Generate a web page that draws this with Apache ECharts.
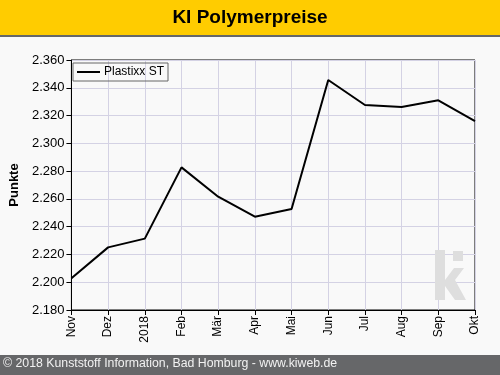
<!DOCTYPE html>
<html>
<head>
<meta charset="utf-8">
<script src="https://cdn.jsdelivr.net/npm/echarts@6/dist/echarts.min.js"></script>
<style>
html,body{margin:0;padding:0;background:#f9f9f9;}
#c{width:500px;height:375px;}
</style>
</head>
<body>
<div id="c"></div>
<script>
var categories = ['Nov','Dez','2018','Feb','Mär','Apr','Mai','Jun','Jul','Aug','Sep','Okt'];
var plastixxST = [2.2028, 2.2251, 2.2314, 2.2827, 2.2616, 2.2472, 2.2527, 2.3456, 2.3276, 2.3262, 2.3310, 2.3160];
var seriesName = 'Plastixx ST';
var titleText = 'KI Polymerpreise';
var yAxisName = 'Punkte';
var footerText = '© 2018 Kunststoff Information, Bad Homburg - www.kiweb.de';

var chart = echarts.init(document.getElementById('c'), null, {renderer:'canvas'});
var font = 'Arial, "Liberation Sans", sans-serif';
chart.setOption({
  backgroundColor: '#f9f9f9',
  animation: false,
  graphic: [
    {type:'rect', left:0, top:0, shape:{width:500, height:35}, style:{fill:'#ffcc00'}, z:0},
    {type:'rect', left:0, top:35, shape:{width:500, height:2}, style:{fill:'#666769'}, z:0},
    {type:'text', left:'center', top:8, style:{text:titleText, fill:'#000', font:'bold 19px ' + font}},
    {type:'rect', left:0, top:355, shape:{width:500, height:20}, style:{fill:'#666769'}},
    {type:'text', left:3, top:358, style:{text:footerText, fill:'#f2f2f2', font:'12.3px ' + font}},
    {type:'rect', left:435, top:250, shape:{width:10, height:50}, style:{fill:'#dedede'}, z:1},
    {type:'rect', left:453, top:251, shape:{width:10, height:10}, style:{fill:'#dedede'}, z:1},
    {type:'polygon', shape:{points:[[445,280],[454,268],[464,268],[455,280],[466,300],[455,300],[445,286]]}, style:{fill:'#dedede'}, z:1}
  ],
  legend: {
    show: true,
    left: 73, top: 63,
    orient: 'horizontal',
    data: [seriesName],
    icon: 'rect',
    itemWidth: 23, itemHeight: 2,
    itemGap: 4,
    borderColor: '#666',
    borderWidth: 1,
    padding: [3, 4, 3, 4],
    textStyle: {fontFamily: font, fontSize: 12, color:'#000', padding:[0,0,0,-1]},
    z: 10
  },
  grid: {left:70, right:25, top:60, bottom:65, show:true, borderColor:'#000', borderWidth:1, backgroundColor:'#f9f9f9'},
  xAxis: {
    type: 'category',
    data: categories,
    boundaryGap: false,
    axisLine: {lineStyle:{color:'#000', width:1}},
    axisTick: {show:true, length:5, lineStyle:{color:'#000'}},
    axisLabel: {rotate: 90, fontFamily: font, fontSize: 12, color:'#000', margin: 6, interval: 0},
    splitLine: {show:true, lineStyle:{color:'#d4d2e4', width:1}}
  },
  yAxis: {
    type: 'value',
    min: 2.18, max: 2.36, interval: 0.02,
    name: yAxisName,
    nameLocation: 'middle',
    nameGap: 43,
    nameTextStyle: {fontFamily: font, fontSize: 13, fontWeight:'bold', color:'#000'},
    axisLine: {show:true, lineStyle:{color:'#000', width:1}},
    axisTick: {show:true, length:5, lineStyle:{color:'#000'}},
    axisLabel: {fontFamily: font, fontSize: 13, color:'#000', margin: 7, formatter: function(v){return v.toFixed(3);}},
    splitLine: {show:true, lineStyle:{color:'#d4d2e4', width:1}}
  },
  series: [{
    name: seriesName,
    type: 'line',
    data: plastixxST,
    showSymbol: false,
    symbol: 'none',
    lineStyle: {color:'#000', width:2},
    itemStyle: {color:'#000'},
    z: 5
  }]
});
</script>
</body>
</html>
